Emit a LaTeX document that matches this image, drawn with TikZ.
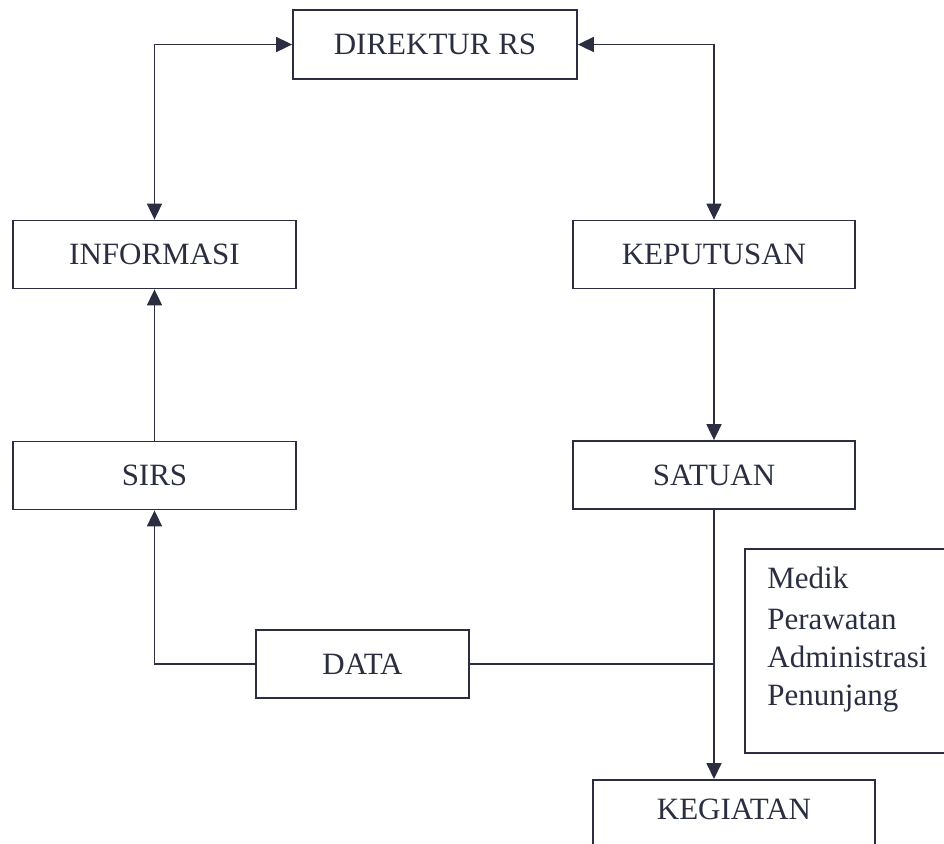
\documentclass[tikz,border=0pt]{standalone}
\usepackage{fontspec}
\setmainfont{Liberation Serif}
\usetikzlibrary{arrows.meta}
\definecolor{ink}{RGB}{42,46,64}

\begin{document}
\begin{tikzpicture}[x=0.5pt,y=-0.5pt,
  box/.style={draw=ink, line width=0.9pt, text=ink, inner sep=0pt,
    font=\fontsize{15.5}{19}\selectfont, minimum height=34pt},
  item/.style={text=ink, inner sep=0pt, anchor=base west,
    font=\fontsize{15.5}{19}\selectfont},
  link/.style={draw=ink, line width=0.9pt},
  tip/.style={-{Triangle[length=8pt,width=7.5pt]}},
  tips/.style={{Triangle[length=8pt,width=7.5pt]}-{Triangle[length=8pt,width=7.5pt]}}]

  % page frame (pixel grid, y downwards)
  \useasboundingbox (0,0) rectangle (944,843);
  \clip (0,0) rectangle (944,843);

  % boxes
  \node[box, minimum width=142pt, minimum height=34.5pt] (dir) at (435,44.5) {DIREKTUR RS};
  \node[box, minimum width=141.5pt] (info) at (154.5,254.5) {INFORMASI};
  \node[box, minimum width=141pt]   (kep)  at (714,254.5) {KEPUTUSAN};
  \node[box, minimum width=141.5pt] (sirs) at (154.5,475.5) {SIRS};
  \node[box, minimum width=141pt]   (sat)  at (714,475) {SATUAN};
  \node[box, minimum width=106.5pt] (data) at (362.5,664) {DATA};
  \node[box, anchor=north, minimum width=141pt, minimum height=0pt,
        text height=10.5pt, text depth=6pt, inner ysep=9.5pt] (keg) at (734,779) {KEGIATAN};

  % list of units
  \node[box, anchor=north west, minimum width=112pt, minimum height=102pt] (units) at (744,548) {};
  \node[item] (u1) at (767,588) {Medik};
  \node[item] (u2) at (767,629) {Perawatan};
  \node[item] (u3) at (767,667) {Administrasi};
  \node[item] (u4) at (767,705) {Penunjang};

  % connectors
  \coordinate (junction) at (sat.south |- data.east);
  \draw[link, tips] (info.north) |- (dir.west);
  \draw[link, tips] (dir.east) -| (kep.north);
  \draw[link, tip] (sirs.north) -- (info.south);
  \draw[link, tip] (kep.south) -- (sat.north);
  \draw[link, tip] (data.west) -| (sirs.south);
  \draw[link] (data.east) -- (junction);
  \draw[link, tip] (sat.south) -- (sat.south |- keg.north);
\end{tikzpicture}
\end{document}
